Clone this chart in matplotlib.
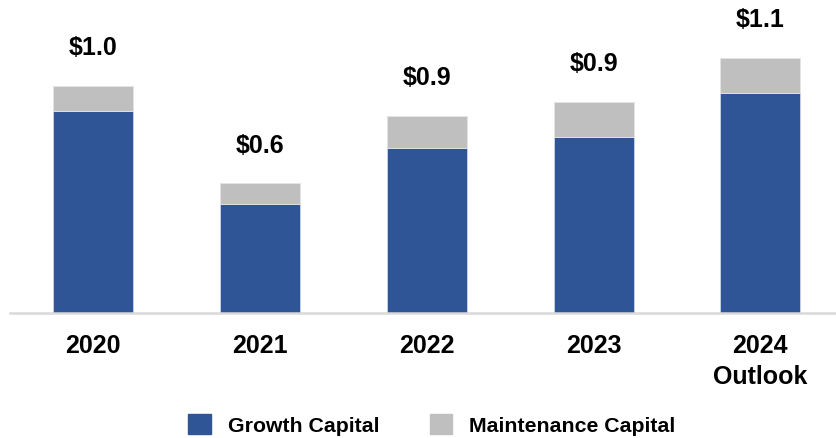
#!/usr/bin/env python3
"""Stacked capital spending bars: growth vs maintenance, 2020-2024 outlook."""

import matplotlib.pyplot as plt
from matplotlib.patches import Patch

plt.rcParams["font.family"] = ["Liberation Sans", "DejaVu Sans"]

years = ["2020", "2021", "2022", "2023", "2024\nOutlook"]
growth = [0.87, 0.47, 0.71, 0.76, 0.95]
maintenance = [0.11, 0.09, 0.14, 0.15, 0.15]
total_labels = ["$1.0", "$0.6", "$0.9", "$0.9", "$1.1"]

blue = "#2F5597"
grey = "#BFBFBF"
axis_grey = "#D9D9D9"

fig = plt.figure(figsize=(8.37, 4.38), dpi=100)
ax = fig.add_axes([10 / 837, 125 / 438, 827 / 837, 303 / 438])

x = range(len(years))
ax.bar(x, growth, width=0.48, color=blue, edgecolor="#C9D3E6", linewidth=0.6)
ax.bar(x, maintenance, bottom=growth, width=0.48, color=grey,
       edgecolor="#E4E4E4", linewidth=0.6)

for i, (g, m, lab) in enumerate(zip(growth, maintenance, total_labels)):
    ax.annotate(lab, (i, g + m), xytext=(0, 27), textcoords="offset points",
                ha="center", va="center", fontsize=18, fontweight="bold",
                color="black")

ax.set_xlim(-0.5, 4.46)
ax.set_ylim(0, 303 / 232)
ax.set_xticks(list(x), years, fontsize=18, fontweight="bold", linespacing=1.4)
ax.set_yticks([])
ax.tick_params(axis="x", length=0, pad=15)
ax.spines[["top", "right", "left"]].set_visible(False)
ax.spines["bottom"].set_color(axis_grey)
ax.spines["bottom"].set_linewidth(1.8)

handles = [Patch(facecolor=blue, edgecolor=blue, label="Growth Capital"),
           Patch(facecolor=grey, edgecolor=grey, label="Maintenance Capital")]
fig.legend(handles=handles, loc="center", bbox_to_anchor=(432 / 837, 1 - 425 / 438),
           ncol=2, frameon=False, handlelength=1.05, handleheight=1.05,
           handletextpad=0.8, columnspacing=2.4,
           prop={"size": 15.3, "weight": "bold"})

fig.savefig("out.png", dpi=100, facecolor="white")
plt.close(fig)
